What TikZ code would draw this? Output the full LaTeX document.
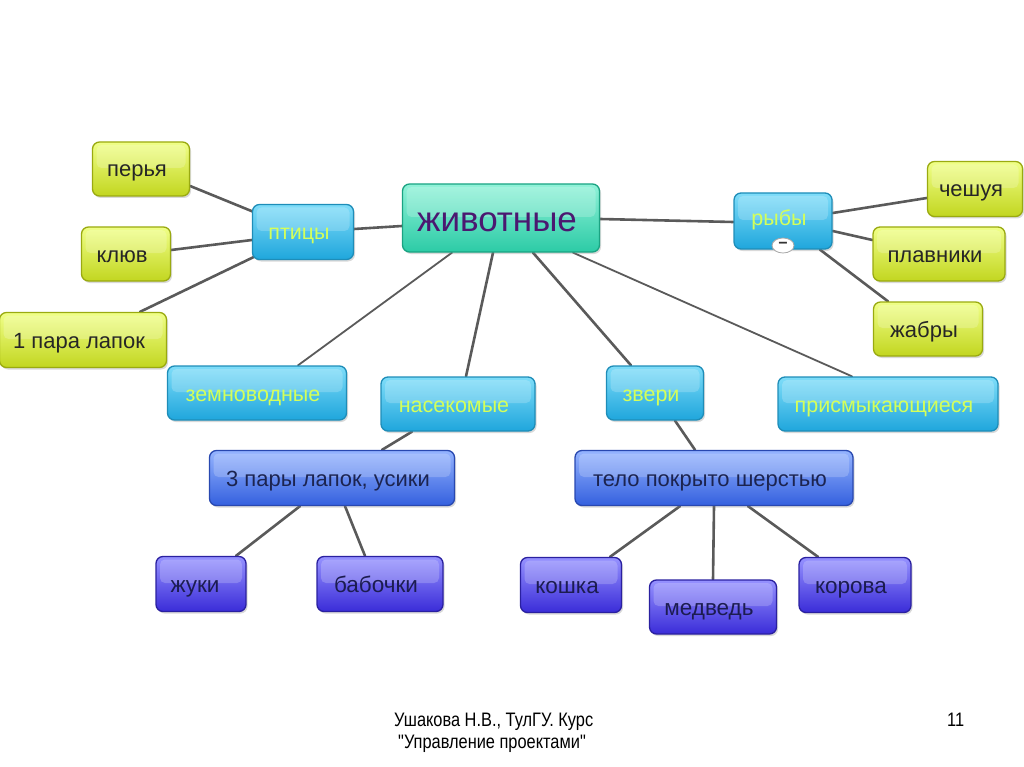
\documentclass[tikz,border=0pt]{standalone}
\usepackage{fontspec}
\setmainfont{Liberation Sans}
\usetikzlibrary{calc,backgrounds,shadows,shapes.geometric}
\definecolor{edgec}{HTML}{5A5A5A}
\definecolor{cyB}{HTML}{1E8DB8}\definecolor{cyT}{HTML}{7FDDF9}\definecolor{cyM}{HTML}{3FC2EE}\definecolor{cyL}{HTML}{1FA6DC}\definecolor{cyTx}{HTML}{D4FF5A}
\definecolor{yeB}{HTML}{9AAA10}\definecolor{yeT}{HTML}{F0FF88}\definecolor{yeM}{HTML}{DCEE3A}\definecolor{yeL}{HTML}{C2D620}
\definecolor{teB}{HTML}{1AA382}\definecolor{teT}{HTML}{90F2D8}\definecolor{teM}{HTML}{50E0BE}\definecolor{teL}{HTML}{2CCBA6}\definecolor{teTx}{HTML}{4B1870}
\definecolor{blB}{HTML}{2848B0}\definecolor{blT}{HTML}{95B4FF}\definecolor{blM}{HTML}{5482F4}\definecolor{blL}{HTML}{3460DE}\definecolor{blTx}{HTML}{1C2450}
\definecolor{puB}{HTML}{2A20A0}\definecolor{puT}{HTML}{9692FF}\definecolor{puM}{HTML}{5A50F0}\definecolor{puL}{HTML}{3A2CD8}\definecolor{puTx}{HTML}{1C1C50}
\tikzset{
  box/.style={rounded corners=7pt, draw, line width=1.3pt, inner sep=0pt,
    text height=16pt, text depth=0pt,
    execute at end node={\kern8pt},
    drop shadow={shadow xshift=1.5pt, shadow yshift=-2pt, opacity=0.3},
    path picture={\fill[white, opacity=0.2, rounded corners=5pt]
      ([xshift=4pt,yshift=-3pt]path picture bounding box.north west) rectangle
      ([xshift=-4pt,yshift=1pt]path picture bounding box.east);}},
  cybox/.style={box, draw=cyB, top color=cyT, middle color=cyM, bottom color=cyL, text=cyTx, font=\fontsize{21.5}{23}\selectfont},
  yebox/.style={box, draw=yeB, top color=yeT, middle color=yeM, bottom color=yeL, text=black!85, font=\fontsize{22}{24}\selectfont},
  tebox/.style={box, draw=teB, top color=teT, middle color=teM, bottom color=teL, text=teTx, font=\fontsize{35}{37}\selectfont, text height=28pt},
  blbox/.style={box, draw=blB, top color=blT, middle color=blM, bottom color=blL, text=blTx, font=\fontsize{22}{24}\selectfont},
  pubox/.style={box, draw=puB, top color=puT, middle color=puM, bottom color=puL, text=puTx, font=\fontsize{22.5}{24}\selectfont},
  edge/.style={draw=edgec, line width=2.6pt, line cap=round},
  thin edge/.style={draw=edgec, line width=1.8pt, line cap=round},
  foot/.style={font=\fontsize{19.5}{21}\selectfont, text=black, inner sep=0pt, anchor=base west}
}
\begin{document}
\begin{tikzpicture}[x=1pt,y=-1pt]
\useasboundingbox (0,0) rectangle (1024,767);
% central
\node[tebox, minimum width=197pt, minimum height=68pt] (ziv) at (501,218) {животные};
% level 1
\node[cybox, minimum width=101pt, minimum height=55pt] (pti) at (303,232) {птицы};
\node[cybox, minimum width=98pt, minimum height=56pt] (ryb) at (783,221) {\raisebox{3pt}{рыбы}};
\node[cybox, minimum width=179pt, minimum height=54pt] (zem) at (257,393) {земноводные};
\node[cybox, minimum width=154pt, minimum height=54pt] (nas) at (458,404) {насекомые};
\node[cybox, minimum width=97pt, minimum height=54pt] (zve) at (655,393) {звери};
\node[cybox, minimum width=220pt, minimum height=54pt] (pri) at (888,404) {присмыкающиеся};
% collapse button
\node[draw=gray!70, fill=white, ellipse, line width=0.8pt, minimum width=22pt, minimum height=15pt, inner sep=0pt, font=\fontsize{16}{16}\selectfont\bfseries, text=black!80] (btn) at (783,245.5) {−};
% birds
\node[yebox, minimum width=97pt, minimum height=54pt] (per) at (141,169) {перья};
\node[yebox, minimum width=89pt, minimum height=54pt] (klu) at (126,254) {клюв};
\node[yebox, minimum width=167pt, minimum height=55pt] (lap) at (83,340) {1 пара лапок};
% fish
\node[yebox, minimum width=95pt, minimum height=55pt] (che) at (975,189) {чешуя};
\node[yebox, minimum width=132pt, minimum height=54pt] (pla) at (939,254) {плавники};
\node[yebox, minimum width=109pt, minimum height=54pt] (zha) at (928,329) {жабры};
% level 2
\node[blbox, minimum width=245pt, minimum height=55pt] (tri) at (332,478) {3 пары лапок, усики};
\node[blbox, minimum width=278pt, minimum height=55pt] (tel) at (714,478) {тело покрыто шерстью};
% level 3
\node[pubox, minimum width=90pt, minimum height=55pt] (zhu) at (201,584) {жуки\kern4pt};
\node[pubox, minimum width=126pt, minimum height=55pt] (bab) at (380,584) {бабочки};
\node[pubox, minimum width=101pt, minimum height=55pt] (kos) at (571,585) {кошка};
\node[pubox, minimum width=127pt, minimum height=54pt] (med) at (713,607) {медведь};
\node[pubox, minimum width=112pt, minimum height=55pt] (kor) at (855,585) {корова};
% footer
\node[foot] (f1) at (394,726.5) {\scalebox{0.84}[1]{Ушакова Н.В., ТулГУ. Курс}};
\node[foot] (f2) at (398,748) {\scalebox{0.84}[1]{\textquotedbl Управление проектами\textquotedbl}};
\node[foot] (pg) at (947,726.5) {\scalebox{0.84}[1]{11}};
% connectors
\begin{scope}[on background layer]
\draw[edge] ($(ziv.west)+(0,8)$) -- ($(pti.east)+(0,-3)$);
\draw[edge] ($(ziv.east)+(0,1)$) -- ($(ryb.west)+(0,1)$);
\draw[thin edge] ($(ziv.south)+(-49,0)$) -- ($(zem.north)+(41,0)$);
\draw[edge] ($(ziv.south)+(-8,0)$) -- ($(nas.north)+(8,0)$);
\draw[edge] ($(ziv.south)+(32,0)$) -- ($(zve.north)+(-24,0)$);
\draw[thin edge] ($(ziv.south)+(72,0)$) -- ($(pri.north)+(-36,0)$);
\draw[edge] ($(per.east)+(0,17)$) -- ($(pti.west)+(2,-20)$);
\draw[edge] ($(klu.east)+(0,-4)$) -- ($(pti.west)+(0,8)$);
\draw[edge] ($(lap.north)+(57,0)$) -- ($(pti.west)+(4,24)$);
\draw[edge] ($(ryb.east)+(0,-8)$) -- ($(che.west)+(0,9)$);
\draw[edge] ($(ryb.east)+(0,10)$) -- ($(pla.west)+(0,-14)$);
\draw[edge] ($(ryb.south)+(37,0)$) -- ($(zha.north)+(-40,0)$);
\draw[edge] ($(nas.south)+(-46,0)$) -- ($(tri.north)+(50,0)$);
\draw[edge] ($(zve.south)+(20,0)$) -- ($(tel.north)+(-19,0)$);
\draw[edge] ($(tri.south)+(-32,0)$) -- ($(zhu.north)+(35,0)$);
\draw[edge] ($(tri.south)+(13,0)$) -- ($(bab.north)+(-15,0)$);
\draw[edge] ($(tel.south)+(-34,0)$) -- ($(kos.north)+(39,0)$);
\draw[edge] (tel.south) -- (med.north);
\draw[edge] ($(tel.south)+(34,0)$) -- ($(kor.north)+(-37,0)$);
\end{scope}
\end{tikzpicture}
\end{document}
